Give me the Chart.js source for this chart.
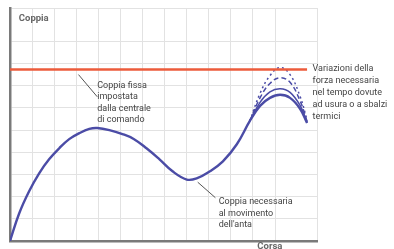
<!DOCTYPE html>
<html><head><meta charset="utf-8">
<script src="https://cdn.jsdelivr.net/npm/chart.js@4/dist/chart.umd.min.js"></script>
<style>html,body{margin:0;padding:0;background:#fff}#wrap{width:394px;height:249px}</style>
</head><body><div id="wrap"><canvas id="c" width="394" height="249"></canvas></div>
<script>
// Main torque curve (Corsa vs Coppia)
const mainX = [0, 0.41, 0.86, 1.32, 1.77, 2.23, 2.68, 3.14, 3.59, 3.95, 4.5, 5.09, 5.6, 6.18, 6.77, 7.36, 8.0, 8.45, 9.05, 9.64, 10.27, 10.86, 11.32, 11.77, 12.23, 12.68, 13.14, 13.45];
const mainY = [0, 1.23, 2.23, 3.05, 3.68, 4.18, 4.59, 4.86, 5.05, 5.09, 5.0, 4.82, 4.6, 4.18, 3.68, 3.14, 2.77, 2.82, 3.14, 3.59, 4.36, 5.41, 6.09, 6.45, 6.59, 6.45, 5.95, 5.32];
// Variations near the peak
const varX = [10.86, 11.32, 11.77, 12.23, 12.68, 13.14, 13.45];
const var1 = [5.41, 6.25, 6.72, 6.86, 6.7, 6.1, 5.35];
const var2 = [5.41, 6.45, 7.1, 7.36, 7.15, 6.3, 5.4];
const var3 = [5.41, 6.65, 7.45, 7.82, 7.5, 6.5, 5.45];
// Fixed torque set by control unit
const fixedX = [0, 13.45];
const fixedY = [7.73, 7.73];
// Labels
const yTitle = "Coppia";
const xTitle = "Corsa";
const note1 = ["Coppia fissa", "impostata", "dalla centrale", "di comando"];
const note2 = ["Variazioni della", "forza necessaria", "nel tempo dovute", "ad usura o a sbalzi", "termici"];
const note3 = ["Coppia necessaria", "al movimento", "dell'anta"];

const pts = (xs, ys) => xs.map((x, i) => ({x, y: ys[i]}));
const blue = '#4b4ca6';

const notes = {
  id: 'notes',
  afterDraw(chart) {
    const {ctx, scales: {x, y}} = chart;
    const px = v => x.getPixelForValue(v), py = v => y.getPixelForValue(v);
    ctx.save();
    ctx.strokeStyle = '#555'; ctx.lineWidth = 1;
    ctx.beginPath();
    ctx.moveTo(px(3.1), py(7.5)); ctx.lineTo(px(3.95), py(6.5));
    ctx.moveTo(px(8.5), py(2.65)); ctx.lineTo(px(9.3), py(1.95));
    ctx.stroke();
    ctx.textBaseline = 'middle';
    ctx.font = 'bold 9.5px Roboto, sans-serif';
    ctx.fillStyle = '#666';
    ctx.fillText(yTitle, px(0.4), py(10.0));
    ctx.fillText(xTitle, px(11.2), 247);
    ctx.font = '9px Roboto, sans-serif';
    ctx.fillStyle = '#444';
    note1.forEach((t, i) => ctx.fillText(t, px(3.95), py(7.0) + i * 11.5));
    note2.forEach((t, i) => ctx.fillText(t, px(13.7), py(7.75) + i * 12));
    note3.forEach((t, i) => ctx.fillText(t, px(9.45), py(1.75) + i * 11.5));
    ctx.restore();
  }
};

new Chart(document.getElementById('c'), {
  type: 'scatter',
  data: {
    datasets: [
      {data: pts(fixedX, fixedY), showLine: true, borderColor: '#ec5b3b', borderWidth: 2.5, pointRadius: 0},
      {data: pts(varX, var3), showLine: true, borderColor: blue, borderWidth: 1.5, borderDash: [2, 3], pointRadius: 0, tension: 0.4},
      {data: pts(varX, var2), showLine: true, borderColor: blue, borderWidth: 1.5, borderDash: [5, 3], pointRadius: 0, tension: 0.4},
      {data: pts(varX, var1), showLine: true, borderColor: blue, borderWidth: 1.5, pointRadius: 0, tension: 0.4},
      {data: pts(mainX, mainY), showLine: true, borderColor: blue, borderWidth: 2.4, pointRadius: 0, tension: 0.4}
    ]
  },
  options: {
    responsive: false, animation: false, events: [],
    layout: {padding: {left: 10, right: 77, top: 8, bottom: 8}},
    plugins: {legend: {display: false}, tooltip: {enabled: false}},
    scales: {
      x: {type: 'linear', min: 0, max: 13.9,
        ticks: {display: false, stepSize: 1},
        grid: {color: '#e2e2e2', lineWidth: 1, drawTicks: false},
        border: {color: '#7a7a7a', width: 2.5}},
      y: {type: 'linear', min: 0, max: 10.5,
        ticks: {display: false, stepSize: 1},
        grid: {color: '#e2e2e2', lineWidth: 1, drawTicks: false},
        border: {color: '#7a7a7a', width: 2.5}}
    }
  },
  plugins: [notes]
});
</script></body></html>
